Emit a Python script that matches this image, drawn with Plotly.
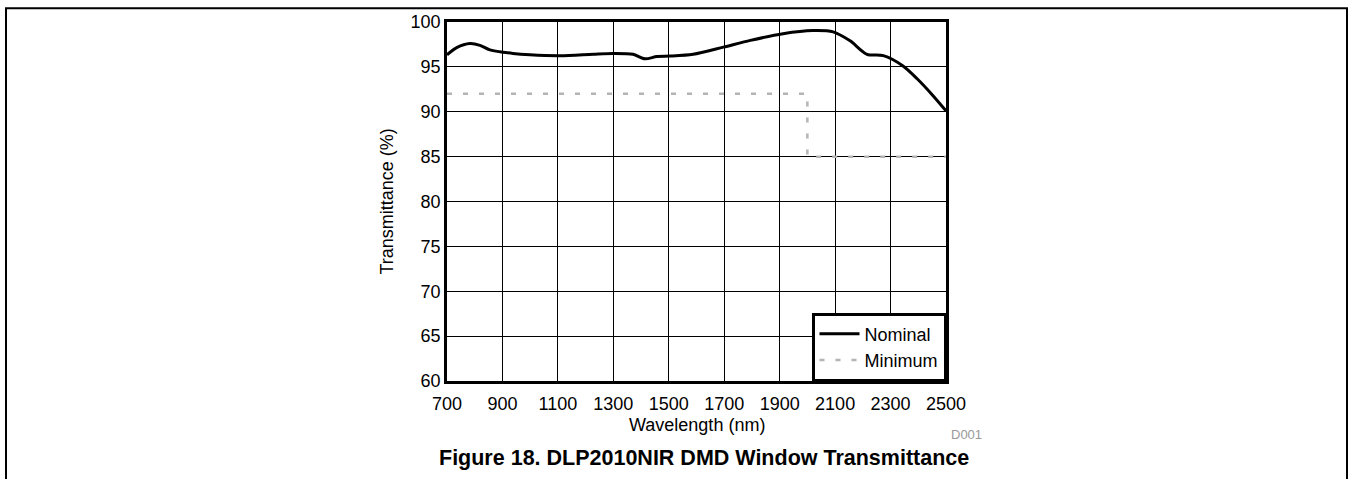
import plotly.graph_objects as go

# ---- data ----
nominal_wl = [700, 735, 783, 819, 855, 938, 999, 1108, 1228, 1300, 1371, 1414, 1457,
              1505, 1588, 1697, 1794, 1912, 2020, 2093, 2154, 2215, 2274, 2345,
              2395, 2450, 2500]
nominal_t = [96.35, 97.15, 97.6, 97.4, 96.9, 96.5, 96.35, 96.25, 96.42, 96.5, 96.4,
             95.9, 96.15, 96.2, 96.4, 97.2, 97.95, 98.7, 99.05, 98.9, 97.9, 96.4,
             96.25, 95.1, 93.7, 91.9, 90.1]

minimum_wl = [700, 2000, 2000, 2500]
minimum_t = [92, 92, 85, 85]

x_ticks = [700, 900, 1100, 1300, 1500, 1700, 1900, 2100, 2300, 2500]
y_ticks = [60, 65, 70, 75, 80, 85, 90, 95, 100]

FONT = "Liberation Sans, Arial, sans-serif"

W, H = 1350, 479
ML, MR, MT, MB = 447, 404, 17, 98
PW = W - ML - MR
PH = H - MT - MB


def px_x(px):
    return (px - ML) / PW


def px_y(py):
    return (H - MB - py) / PH


fig = go.Figure()
fig.add_trace(go.Scatter(
    x=nominal_wl, y=nominal_t, mode="lines", name="Nominal",
    line=dict(color="black", width=3, shape="spline", smoothing=0.8),
))
fig.add_trace(go.Scatter(
    x=minimum_wl, y=minimum_t, mode="lines", name="Minimum",
    line=dict(color="#b4b4b4", width=2.5, dash="5px,11px"),
))

fig.update_layout(
    width=W, height=H,
    margin=dict(l=ML, r=MR, t=MT, b=MB),
    paper_bgcolor="white", plot_bgcolor="white",
    font=dict(family=FONT, size=18, color="black"),
    showlegend=True,
    legend=dict(
        x=1, y=0, xanchor="right", yanchor="bottom",
        bgcolor="white", bordercolor="black", borderwidth=2.5,
        font=dict(family=FONT, size=18, color="black"),
        tracegroupgap=0, itemwidth=40,
    ),
    xaxis=dict(
        range=[700, 2500], tickvals=x_ticks, ticktext=[str(v) for v in x_ticks],
        showgrid=True, gridcolor="black", gridwidth=1,
        showline=True, linecolor="black", linewidth=2.5, mirror=True,
        ticks="", zeroline=False, tickfont=dict(size=18), ticklabelstandoff=5,
    ),
    yaxis=dict(
        range=[60, 100], tickvals=y_ticks, ticktext=[str(v) for v in y_ticks],
        showgrid=True, gridcolor="black", gridwidth=1,
        showline=True, linecolor="black", linewidth=2.5, mirror=True,
        ticks="", zeroline=False, tickfont=dict(size=18), ticklabelstandoff=0,
    ),
    shapes=[
        dict(type="rect", xref="paper", yref="paper",
             x0=px_x(6), x1=px_x(1347), y0=px_y(495), y1=px_y(3),
             line=dict(color="black", width=2), fillcolor="rgba(0,0,0,0)",
             layer="below"),
    ],
    annotations=[
        dict(text="Wavelength (nm)", xref="paper", yref="paper",
             x=px_x(696.5), y=px_y(426), xanchor="center", yanchor="middle",
             showarrow=False, font=dict(size=18)),
        dict(text="Transmittance (%)", xref="paper", yref="paper",
             x=px_x(386), y=px_y(199), xanchor="center", yanchor="middle",
             textangle=-90, showarrow=False, font=dict(size=18)),
        dict(text="D001", xref="paper", yref="paper",
             x=px_x(966), y=px_y(435), xanchor="center", yanchor="middle",
             showarrow=False, font=dict(size=13, color="#999999")),
        dict(text="<b>Figure 18. DLP2010NIR DMD Window Transmittance</b>",
             xref="paper", yref="paper",
             x=px_x(704), y=px_y(459), xanchor="center", yanchor="middle",
             showarrow=False, font=dict(size=21.5)),
    ],
)

fig.write_html("out.html", config={"displayModeBar": False},
               post_script="document.body.style.margin='0';")
